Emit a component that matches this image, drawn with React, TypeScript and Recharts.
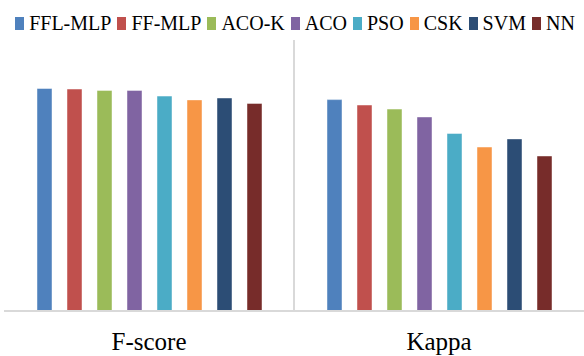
import { Bar, BarChart, Legend, ReferenceLine, XAxis, YAxis } from 'recharts'

const metrics = ['F-score', 'Kappa']
const methods = ['FFL-MLP', 'FF-MLP', 'ACO-K', 'ACO', 'PSO', 'CSK', 'SVM', 'NN']
const fScore = [0.821, 0.819, 0.814, 0.814, 0.793, 0.779, 0.786, 0.766]
const kappa = [0.78, 0.76, 0.745, 0.716, 0.655, 0.605, 0.635, 0.572]

const COLORS = ['#4f81bd', '#c0504d', '#9bbb59', '#8064a2', '#4bacc6', '#f79646', '#2c4d75', '#772c2a']

const FONT = "'Liberation Serif', Tinos, 'Times New Roman', 'DejaVu Serif', serif"

const seriesByMetric = [fScore, kappa]

const chartData = metrics.map((metric, i) => {
  const row: Record<string, string | number> = { metric }
  methods.forEach((m, j) => {
    row[m] = seriesByMetric[i][j]
  })
  return row
})

const LegendContent = () => (
  <div
    style={{
      height: 40,
      boxSizing: 'border-box',
      paddingTop: 5,
      paddingLeft: 6,
      display: 'flex',
      justifyContent: 'center',
      fontFamily: FONT,
      fontSize: 20,
      lineHeight: '24px',
      color: '#000',
    }}
  >
    {methods.map((m, i) => (
      <div key={m} style={{ display: 'flex', alignItems: 'center', marginRight: i < methods.length - 1 ? 6 : 0 }}>
        <span style={{ display: 'inline-block', width: 9, height: 13, background: COLORS[i], marginRight: 5, marginTop: 2 }} />
        <span style={{ fontFamily: FONT }}>{m}</span>
      </div>
    ))}
  </div>
)

export default function App() {
  return (
    <div style={{ position: 'absolute', left: 0, top: 0, width: 584, height: 356, background: '#fff', fontFamily: FONT }}>
      <BarChart
        width={584}
        height={356}
        data={chartData}
        margin={{ top: 0, right: 0, bottom: 0, left: 4 }}
        barSize={15}
        barGap={15}
        style={{ fontFamily: FONT }}
      >
        <Legend
          verticalAlign="top"
          align="left"
          content={<LegendContent />}
          wrapperStyle={{ top: 0, left: 0, width: 584, height: 40 }}
        />
        <XAxis
          dataKey="metric"
          height={45}
          axisLine={{ stroke: '#d9d9d9', strokeWidth: 2 }}
          tickLine={false}
          tickSize={0}
          tickMargin={21}
          tick={{ fill: '#000', fontSize: 25, fontFamily: FONT }}
        />
        <YAxis hide domain={[0, 1]} />
        <ReferenceLine x="Kappa" position="start" stroke="#d9d9d9" strokeWidth={2} />
        {methods.map((m, i) => (
          <Bar
            key={m}
            dataKey={m}
            fill={COLORS[i]}
            stroke="#ffffff"
            strokeOpacity={0.45}
            strokeWidth={1}
            isAnimationActive={false}
          />
        ))}
      </BarChart>
    </div>
  )
}
